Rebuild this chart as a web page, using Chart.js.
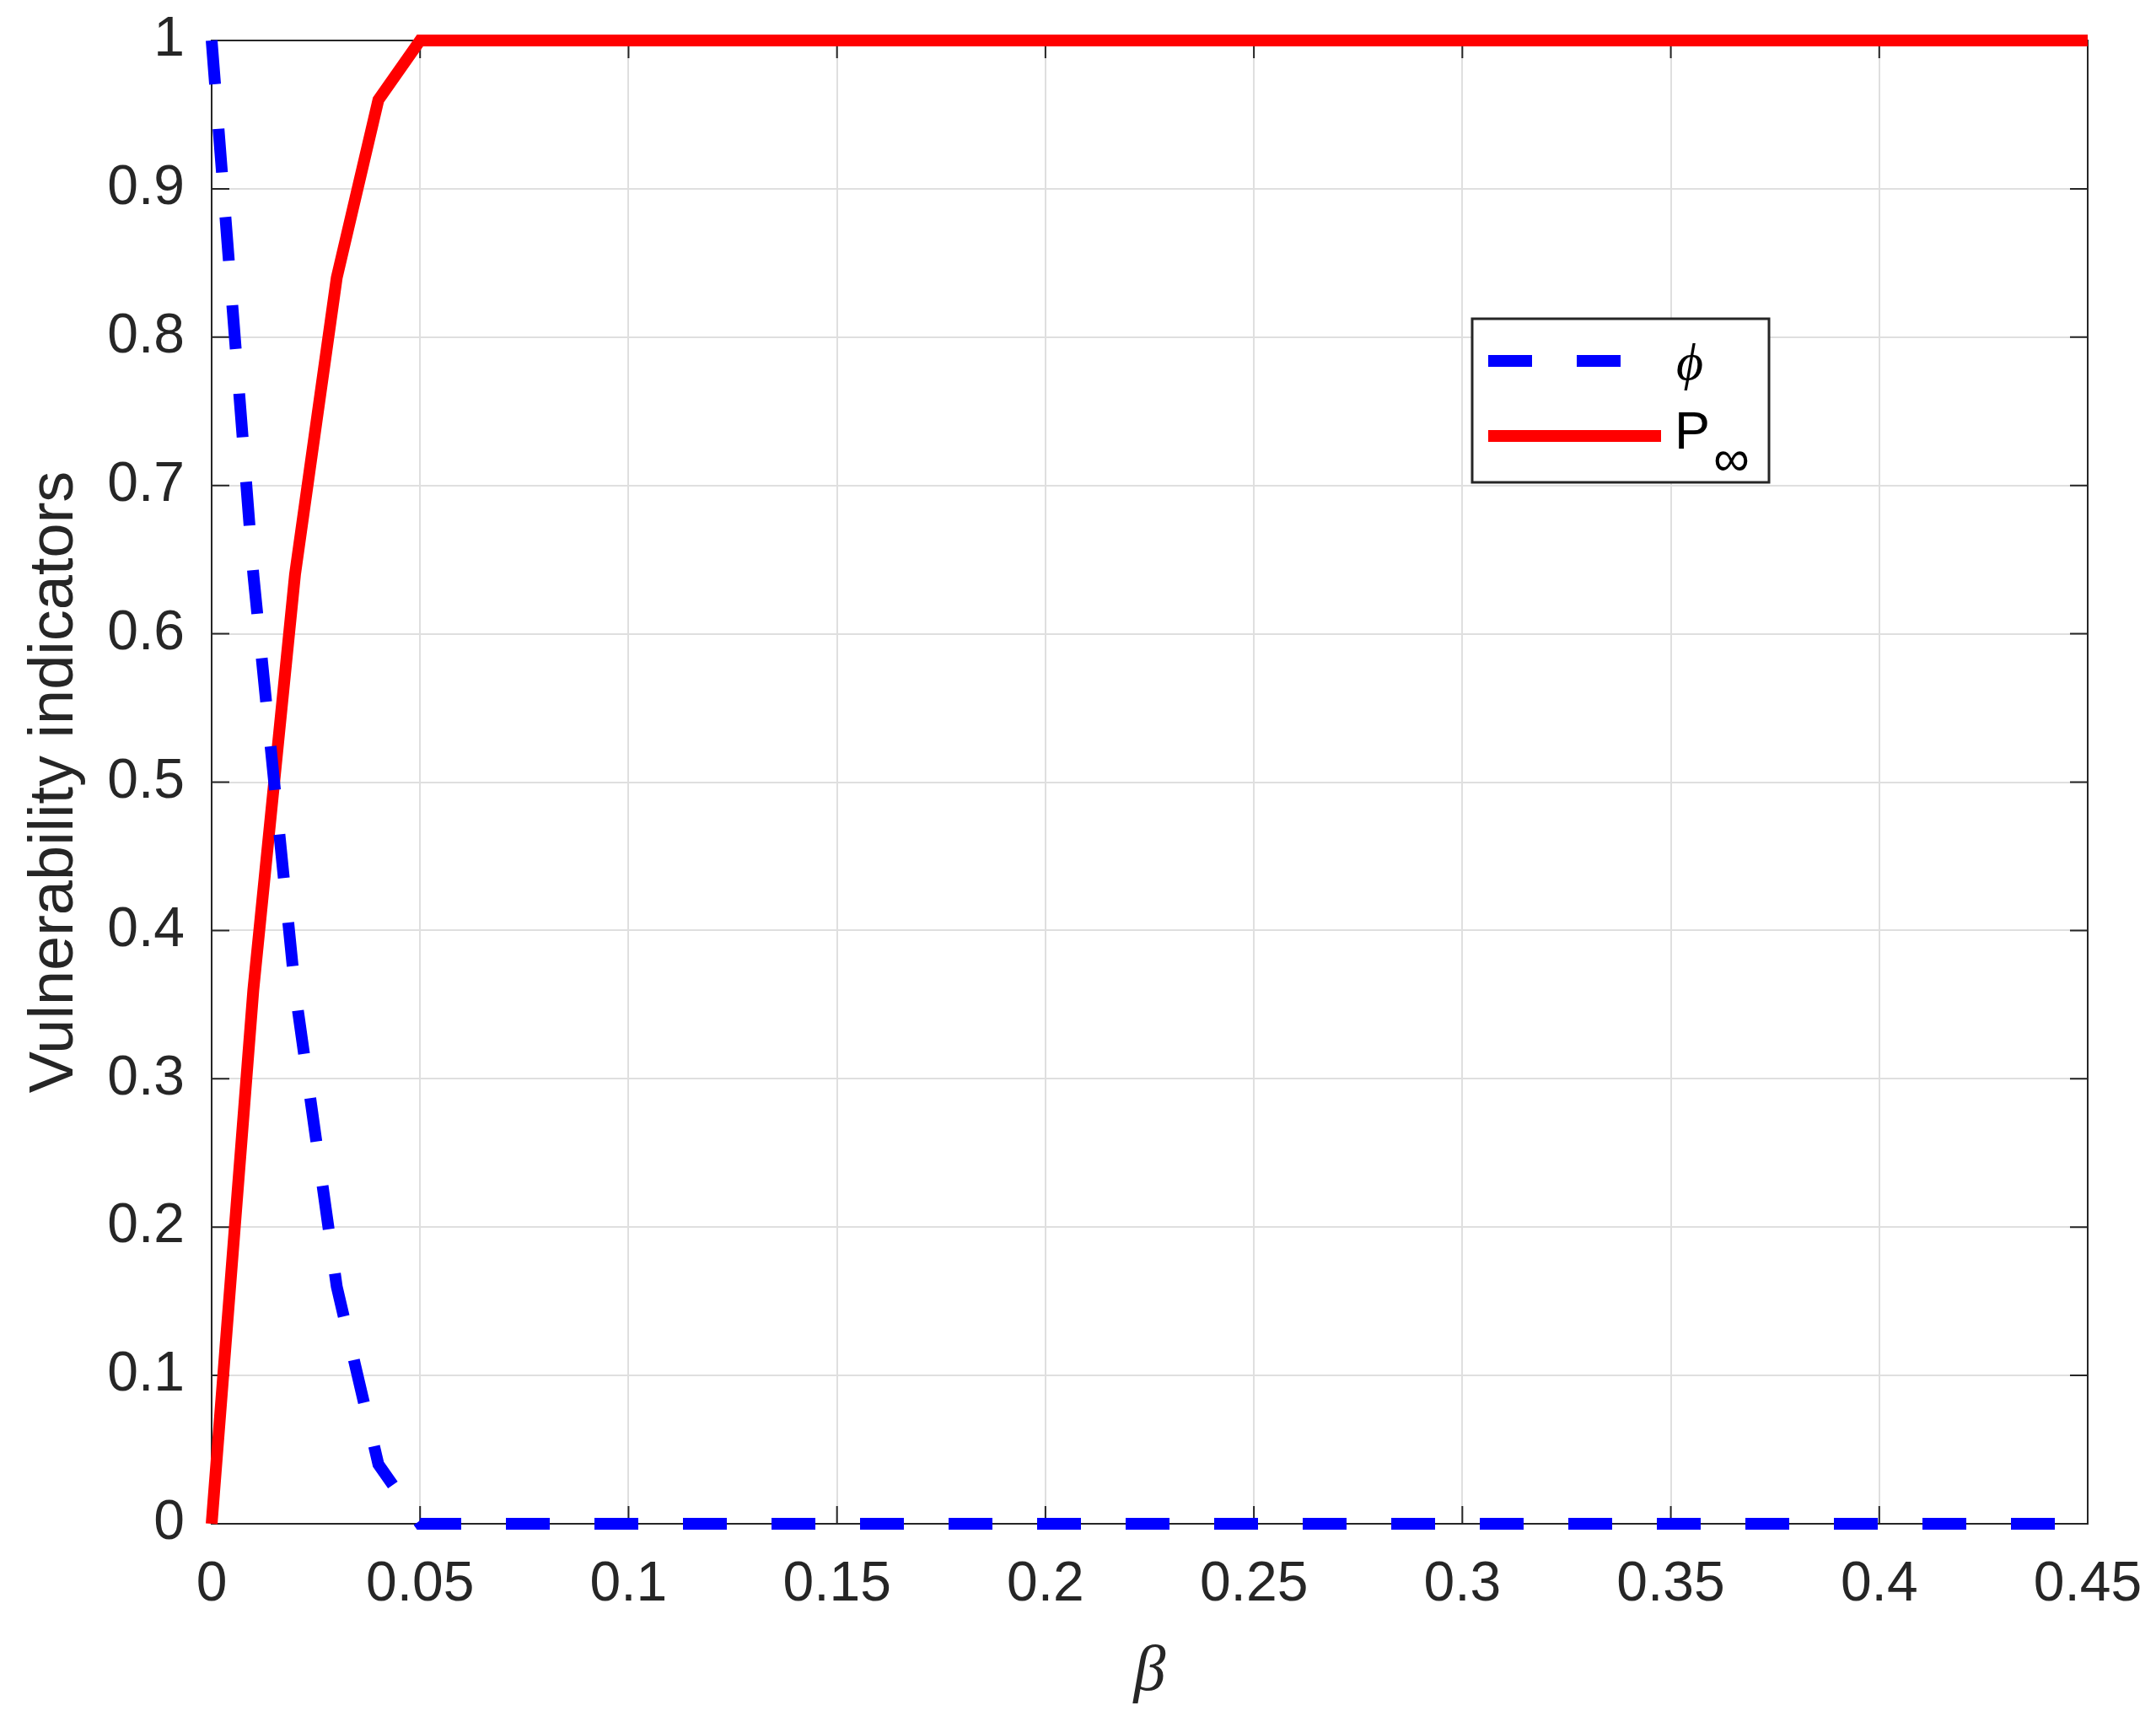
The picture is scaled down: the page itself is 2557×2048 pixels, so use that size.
<!DOCTYPE html>
<html>
<head>
<meta charset="utf-8">
<script src="https://cdn.jsdelivr.net/npm/chart.js@4.4.1/dist/chart.umd.min.js"></script>
<style>
  html, body { margin: 0; padding: 0; background: #fff; }
  canvas { display: block; }
</style>
</head>
<body>
<canvas id="vuln" width="2557" height="2048"></canvas>
<script>
// data
var beta = [0, 0.01, 0.02, 0.03, 0.04, 0.05, 0.06, 0.07, 0.08, 0.09,
  0.1, 0.11, 0.12, 0.13, 0.14, 0.15, 0.16, 0.17, 0.18, 0.19,
  0.2, 0.21, 0.22, 0.23, 0.24, 0.25, 0.26, 0.27, 0.28, 0.29,
  0.3, 0.31, 0.32, 0.33, 0.34, 0.35, 0.36, 0.37, 0.38, 0.39,
  0.4, 0.41, 0.42, 0.43, 0.44, 0.45];
var phi = [1, 0.64, 0.36, 0.16, 0.04,
  0, 0, 0, 0, 0, 0, 0, 0, 0, 0,
  0, 0, 0, 0, 0, 0, 0, 0, 0, 0,
  0, 0, 0, 0, 0, 0, 0, 0, 0, 0,
  0, 0, 0, 0, 0, 0, 0, 0, 0, 0, 0];
var pInf = [0, 0.36, 0.64, 0.84, 0.96,
  1, 1, 1, 1, 1, 1, 1, 1, 1, 1,
  1, 1, 1, 1, 1, 1, 1, 1, 1, 1,
  1, 1, 1, 1, 1, 1, 1, 1, 1, 1,
  1, 1, 1, 1, 1, 1, 1, 1, 1, 1, 1];

var xTicks = [0, 0.05, 0.1, 0.15, 0.2, 0.25, 0.3, 0.35, 0.4, 0.45];
var xTickLabels = ['0', '0.05', '0.1', '0.15', '0.2', '0.25', '0.3', '0.35', '0.4', '0.45'];
var yTicks = [0, 0.1, 0.2, 0.3, 0.4, 0.5, 0.6, 0.7, 0.8, 0.9, 1];
var yTickLabels = ['0', '0.1', '0.2', '0.3', '0.4', '0.5', '0.6', '0.7', '0.8', '0.9', '1'];

var axisColor = '#262626';
var tickFont = { family: 'Liberation Sans, Arial, sans-serif', size: 66 };

function pts(ys) {
  return beta.map(function(b, i) { return { x: b, y: ys[i] }; });
}

// box + inward ticks, drawn under the lines like matlab does
var frame = {
  id: 'frame',
  beforeDatasetsDraw: function(chart) {
    var ctx = chart.ctx, a = chart.chartArea;
    var xs = chart.scales.x, ys = chart.scales.y;
    var tl = 21;
    ctx.save();
    ctx.strokeStyle = axisColor;
    ctx.lineWidth = 2;
    ctx.beginPath();
    xTicks.forEach(function(v) {
      var px = xs.getPixelForValue(v);
      ctx.moveTo(px, a.bottom); ctx.lineTo(px, a.bottom - tl);
      ctx.moveTo(px, a.top); ctx.lineTo(px, a.top + tl);
    });
    yTicks.forEach(function(v) {
      var py = ys.getPixelForValue(v);
      ctx.moveTo(a.left, py); ctx.lineTo(a.left + tl, py);
      ctx.moveTo(a.right, py); ctx.lineTo(a.right - tl, py);
    });
    ctx.stroke();
    ctx.strokeRect(a.left, a.top, a.right - a.left, a.bottom - a.top);
    ctx.restore();
  }
};

// legend box inside the axes
var boxLegend = {
  id: 'boxLegend',
  afterDraw: function(chart) {
    var ctx = chart.ctx;
    var ds = chart.data.datasets;
    var x0 = 1746, y0 = 378, w = 352, h = 194;
    ctx.save();
    ctx.fillStyle = '#fff';
    ctx.fillRect(x0, y0, w, h);
    ctx.strokeStyle = axisColor;
    ctx.lineWidth = 3;
    ctx.strokeRect(x0, y0, w, h);

    var rows = [428, 517];
    ds.forEach(function(d, i) {
      ctx.beginPath();
      ctx.strokeStyle = d.borderColor;
      ctx.lineWidth = d.borderWidth;
      ctx.setLineDash(d.borderDash || []);
      ctx.moveTo(1765, rows[i]);
      ctx.lineTo(1970, rows[i]);
      ctx.stroke();
    });
    ctx.setLineDash([]);

    ctx.fillStyle = '#000';
    ctx.textBaseline = 'alphabetic';
    ctx.textAlign = 'left';
    ctx.font = 'italic 62px "Liberation Serif", serif';
    ctx.fillText('\u03D5', 1988, 450);
    ctx.font = '63px "Liberation Sans", Arial, sans-serif';
    ctx.fillText('P', 1986, 532);
    ctx.font = '60px "Liberation Sans", Arial, sans-serif';
    ctx.fillText('\u221E', 2032, 564);
    ctx.restore();
  }
};

var ctx = document.getElementById('vuln').getContext('2d');

var myLineChart = new Chart(ctx, {
  type: 'line',
  data: {
    datasets: [
      {
        label: '\u03D5',
        data: pts(phi),
        borderColor: '#0000ff',
        borderWidth: 14,
        borderDash: [52, 53],
        pointRadius: 0,
        tension: 0,
        clip: false
      },
      {
        label: 'P\u221E',
        data: pts(pInf),
        borderColor: '#ff0000',
        borderWidth: 14,
        pointRadius: 0,
        tension: 0,
        clip: false
      }
    ]
  },
  options: {
    responsive: false,
    animation: false,
    layout: { padding: { top: 48, right: 81, left: 0, bottom: 0 } },
    plugins: {
      legend: { display: false },
      tooltip: { enabled: false }
    },
    scales: {
      x: {
        type: 'linear',
        min: 0,
        max: 0.45,
        afterFit: function(s) { s.height = 241; },
        afterBuildTicks: function(s) {
          s.ticks = xTicks.map(function(v) { return { value: v }; });
        },
        ticks: {
          color: axisColor,
          font: tickFont,
          padding: 0,
          maxRotation: 0,
          autoSkip: false,
          callback: function(v, i) { return xTickLabels[i]; }
        },
        // invisible tick marks just to push the labels off the axis
        grid: { color: '#dfdfdf', lineWidth: 2, drawTicks: true, tickLength: 33, tickColor: 'rgba(0,0,0,0)' },
        border: { display: false },
        title: {
          display: true,
          text: '\u03B2',
          color: axisColor,
          font: { family: 'Liberation Serif, serif', style: 'italic', size: 76 },
          padding: { top: 0, bottom: 18 }
        }
      },
      y: {
        min: 0,
        max: 1,
        afterFit: function(s) { s.width = 251; },
        afterBuildTicks: function(s) {
          s.ticks = yTicks.map(function(v) { return { value: v }; });
        },
        ticks: {
          color: axisColor,
          font: tickFont,
          padding: 0,
          autoSkip: false,
          callback: function(v, i) { return yTickLabels[i]; }
        },
        grid: { color: '#dfdfdf', lineWidth: 2, drawTicks: true, tickLength: 32, tickColor: 'rgba(0,0,0,0)' },
        border: { display: false },
        title: {
          display: true,
          text: 'Vulnerability indicators',
          color: axisColor,
          font: { family: 'Liberation Sans, Arial, sans-serif', size: 74 },
          padding: { top: 21, bottom: 0 }
        }
      }
    }
  },
  plugins: [frame, boxLegend]
});
</script>
</body>
</html>
